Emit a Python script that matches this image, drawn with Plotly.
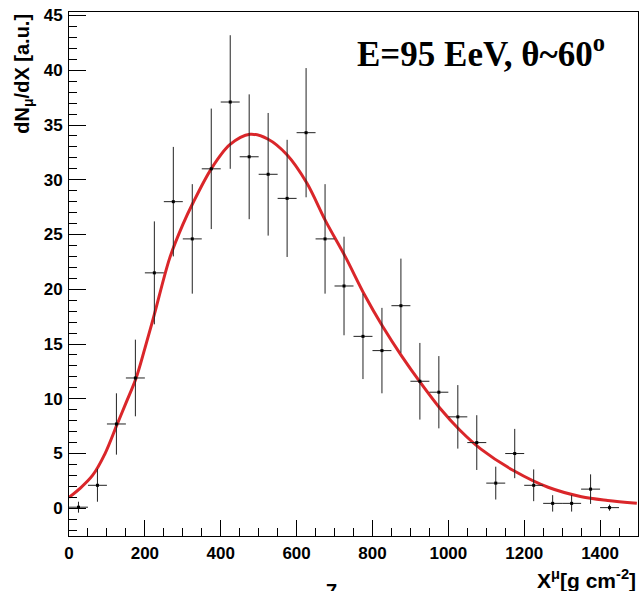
import plotly.graph_objects as go

# Data: bin centres (g cm^-2), values and errors
x_centers = [25, 75, 125, 175, 225, 275, 325, 375, 425, 475, 525, 575, 625, 675, 725,
             775, 825, 875, 925, 975, 1025, 1075, 1125, 1175, 1225, 1275, 1325, 1375, 1425]
y_values = [0.1, 2.1, 7.7, 11.9, 21.5, 28.0, 24.6, 31.0, 37.1, 32.1, 30.5, 28.3, 34.3, 24.6, 20.3,
            15.7, 14.4, 18.5, 11.6, 10.6, 8.35, 6.0, 2.3, 5.0, 2.1, 0.45, 0.45, 1.75, 0.06]
y_errors = [0.5, 1.5, 2.8, 3.5, 4.7, 5.0, 5.0, 5.5, 6.1, 5.7, 5.6, 5.35, 5.9, 5.0, 4.5,
            3.9, 3.9, 4.3, 3.5, 3.3, 2.9, 2.5, 1.5, 2.25, 1.45, 0.75, 0.75, 1.35, 0.28]
x_half_width = [25] * len(x_centers)

# Fit curve
curve_x = [0, 30, 62, 95, 126, 150, 177, 200, 225, 265, 300, 327, 375, 424, 477, 525, 574, 627,
           677, 728, 779, 827, 878, 928, 978, 1030, 1086, 1174, 1263, 1351, 1420, 1497]
curve_y = [1.0, 1.85, 3.0, 5.0, 7.6, 9.6, 11.9, 14.6, 17.7, 22.8, 25.9, 27.9, 31.0, 33.2, 34.15, 33.7,
           32.3, 29.7, 26.2, 23.0, 19.5, 16.6, 13.85, 11.4, 9.13, 7.15, 5.4, 3.4, 1.92, 1.06, 0.72, 0.46]

fig = go.Figure()

fig.add_trace(go.Scatter(
    x=curve_x, y=curve_y, mode="lines",
    line=dict(color="rgb(218,38,42)", width=3, shape="spline", smoothing=0.9),
    hoverinfo="skip", showlegend=False,
))

fig.add_trace(go.Scatter(
    x=x_centers, y=y_values, mode="markers",
    marker=dict(color="black", size=3, symbol="square"),
    error_x=dict(type="data", array=x_half_width, symmetric=True, width=0, thickness=1, color="#222"),
    error_y=dict(type="data", array=y_errors, symmetric=True, width=0, thickness=1, color="#222"),
    showlegend=False,
))

tickfont = dict(family="Liberation Sans, Arial, sans-serif", size=17, color="black", weight="bold")

fig.update_layout(
    width=641, height=591,
    margin=dict(l=69, r=3, t=12, b=55, autoexpand=False),
    paper_bgcolor="white", plot_bgcolor="white",
    xaxis=dict(
        range=[0, 1500], dtick=200, tick0=0, showgrid=False, zeroline=False,
        showline=True, mirror=True, linecolor="black", linewidth=1,
        ticks="inside", ticklen=16, tickcolor="black", tickwidth=1,
        minor=dict(dtick=50, ticks="inside", ticklen=8, tickcolor="black", showgrid=False),
        tickfont=tickfont, ticklabelstandoff=2, automargin=False,
    ),
    yaxis=dict(
        range=[-2.53, 45.32], dtick=5, tick0=0, showgrid=False, zeroline=False,
        showline=True, mirror=True, linecolor="black", linewidth=1,
        ticks="inside", ticklen=17, tickcolor="black", tickwidth=1,
        minor=dict(dtick=1, ticks="inside", ticklen=8, tickcolor="black", showgrid=False),
        tickfont=tickfont, ticklabelstandoff=2, automargin=False,
    ),
    annotations=[
        dict(text="E=95 EeV, θ~60<sup>o</sup>", xref="paper", yref="paper", x=0.5026, y=0.924,
             xanchor="left", yanchor="middle", showarrow=False,
             font=dict(family="Liberation Serif, Times New Roman, serif", size=35, color="black", weight="bold")),
        dict(text="dN<sub>μ</sub>/dX [a.u.]", xref="paper", yref="paper", x=-0.0815, y=1.0,
             xanchor="center", yanchor="top", textangle=-90, showarrow=False,
             font=dict(family="Liberation Sans, Arial, sans-serif", size=20, color="black", weight="bold")),
        dict(text="X<sup>μ</sup>[g cm<sup>-2</sup>]", xref="paper", yref="paper", x=1.0, y=-0.082,
             xanchor="right", yanchor="middle", showarrow=False,
             font=dict(family="Liberation Sans, Arial, sans-serif", size=21, color="black", weight="bold")),
        dict(text="7", xref="paper", yref="paper", x=0.462, y=-0.080,
             xanchor="center", yanchor="top", showarrow=False,
             font=dict(family="Liberation Sans, Arial, sans-serif", size=20, color="black", weight="bold")),
    ],
)

fig.write_html("out.html", config={"displayModeBar": False},
               post_script="document.body.style.margin='0px';document.body.style.overflow='hidden';")
